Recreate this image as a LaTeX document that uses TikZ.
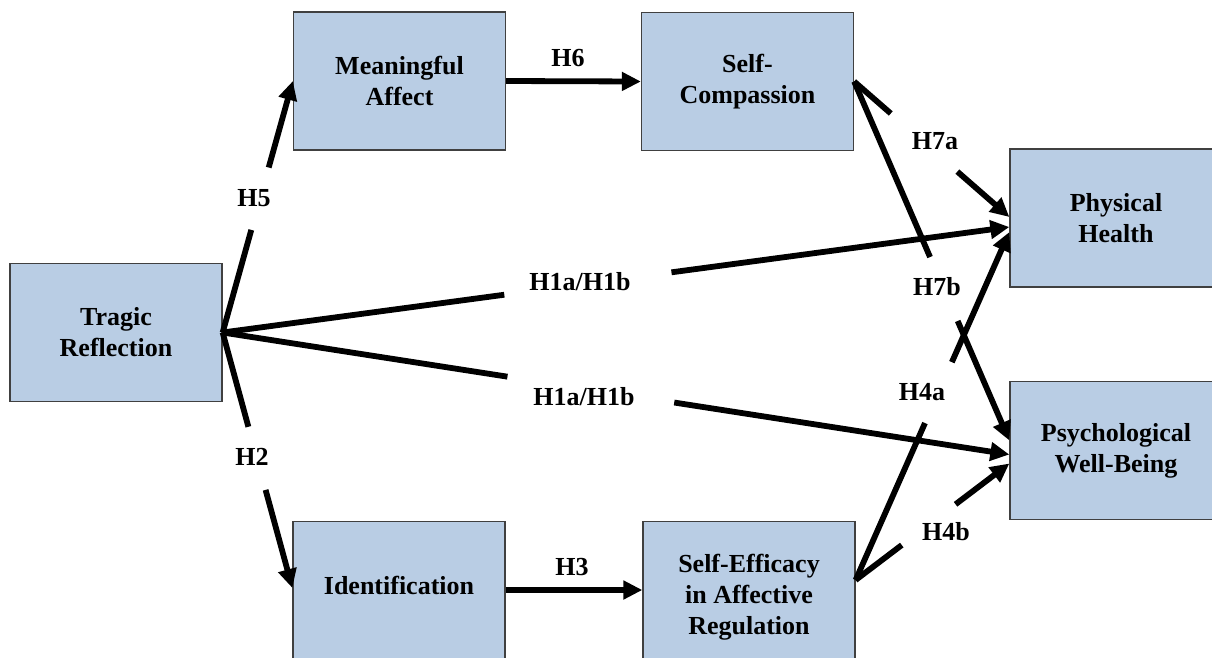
\documentclass[tikz,border=0pt]{standalone}
\usepackage{fontspec}
\setmainfont{Liberation Serif}
\usetikzlibrary{arrows.meta,calc}
\definecolor{boxfill}{RGB}{185,205,228}
\definecolor{boxline}{RGB}{64,64,64}
\begin{document}
\begin{tikzpicture}[x=1pt,y=-1pt,
  box/.style={draw=boxline, line width=1.3pt, fill=boxfill, minimum width=212pt,
    minimum height=138pt, inner sep=0pt, align=center,
    font=\fontsize{26}{31}\selectfont\bfseries},
  txt/.style={align=center, inner sep=0pt, font=\fontsize{26}{31}\selectfont\bfseries},
  hyp/.style={inner sep=0pt, font=\fontsize{26}{31}\selectfont\bfseries},
  link/.style={line width=5.8pt},
  arr/.style={line width=5.8pt, -{Triangle[length=19pt,width=18pt]}},
]
\useasboundingbox (0,0) rectangle (1212,657);
\clip (0,0) rectangle (1212,657);

% constructs
\node[box] (tr) at (116,332.5) {Tragic\\Reflection};
\node[box] (ma) at (399.5,81) {Meaningful\\Affect};
\node[box] (sc) at (747.5,81.5) {Self-\\Compassion};
\node[box] (ph) at (1116,218) {Physical\\Health};
\node[box] (pw) at (1116,450.5) {Psychological\\Well-Being};
\node[box, minimum height=160pt, anchor=north] (id) at (399,521) {};
\node[box, minimum height=160pt, anchor=north] (se) at (749,521) {};
\node[txt] (idt) at (399,585) {Identification};
\node[txt] (set) at (749,597) {Self-Efficacy\\in Affective\\Regulation};

% attachment points
\coordinate (idout) at ($(id.north east)+(0,69)$);
\coordinate (sein)  at ($(se.north west)+(0,69)$);
\coordinate (idin)  at ($(id.north west)+(0,67)$);
\coordinate (seout) at ($(se.north east)+(0,59)$);
\coordinate (ph7)   at ($(ph.west)+(0,-1)$);
\coordinate (ph1)   at ($(ph.west)+(0,9)$);
\coordinate (ph4)   at ($(ph.west)+(0,14)$);
\coordinate (pw7)   at ($(pw.west)+(0,-10)$);
\coordinate (pw1)   at ($(pw.west)+(0,4)$);
\coordinate (pw4)   at ($(pw.west)+(0,13)$);

% H5
\draw[link] (tr.east) -- ($(tr.east)!0.408!(ma.west)$);
\draw[arr] ($(tr.east)!0.656!(ma.west)$) -- (ma.west);
\node[hyp] (h5) at (254,198) {H5};

% H2
\draw[link] (tr.east) -- ($(tr.east)!0.369!(idin)$);
\draw[arr] ($(tr.east)!0.616!(idin)$) -- (idin);
\node[hyp] (h2) at (252,457) {H2};

% H1a/H1b to Physical Health
\draw[link] (tr.east) -- ($(tr.east)!0.358!(ph1)$);
\draw[arr] ($(tr.east)!0.5705!(ph1)$) -- (ph1);
\node[hyp] (h1u) at (580,282) {H1a/H1b};

% H1a/H1b to Psychological Well-Being
\draw[link] (tr.east) -- ($(tr.east)!0.362!(pw1)$);
\draw[arr] ($(tr.east)!0.574!(pw1)$) -- (pw1);
\node[hyp] (h1l) at (584,397) {H1a/H1b};

% H6
\draw[arr] (ma.east) -- (sc.west);
\node[hyp] (h6) at (568,58) {H6};

% H3
\draw[arr] (idout) -- (sein);
\node[hyp] (h3) at (572,567) {H3};

% H7a
\draw[link] (sc.east) -- ($(sc.east)!0.236!(ph7)$);
\draw[arr] ($(sc.east)!0.665!(ph7)$) -- (ph7);
\node[hyp] (h7a) at (935,141) {H7a};

% H7b
\draw[link] (sc.east) -- ($(sc.east)!0.489!(pw7)$);
\draw[arr] ($(sc.east)!0.667!(pw7)$) -- (pw7);
\node[hyp] (h7b) at (937,287) {H7b};

% H4a
\draw[link] (seout) -- ($(seout)!0.451!(ph4)$);
\draw[arr] ($(seout)!0.626!(ph4)$) -- (ph4);
\node[hyp] (h4a) at (922,392) {H4a};

% H4b
\draw[link] (seout) -- ($(seout)!0.30!(pw4)$);
\draw[arr] ($(seout)!0.65!(pw4)$) -- (pw4);
\node[hyp] (h4b) at (946,532) {H4b};
\end{tikzpicture}
\end{document}
